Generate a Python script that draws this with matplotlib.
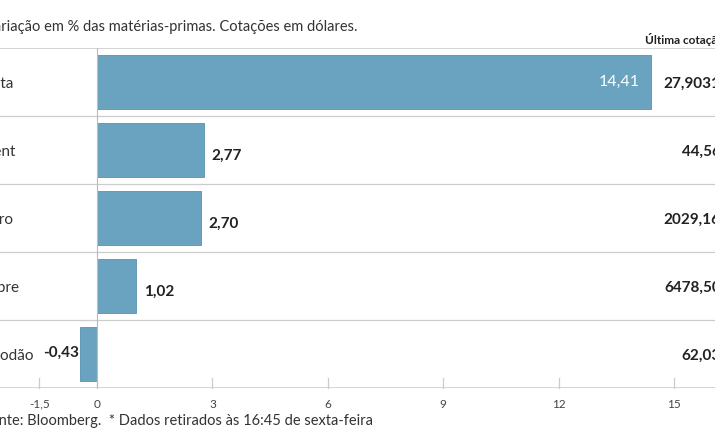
import matplotlib
matplotlib.use("Agg")
import matplotlib.pyplot as plt

categories = ["Prata", "Brent", "Ouro", "Cobre", "Algodão"]
changes = [14.41, 2.77, 2.70, 1.02, -0.43]
prices = ["27,9031", "44,56", "2029,16", "6478,50", "62,03"]
xticks = [-1.5, 0, 3, 6, 9, 12, 15]

plt.rcParams["font.family"] = "Lato"
W, H = 715, 445
fig = plt.figure(figsize=(W/100, H/100), dpi=100)
top, bot = 48, 388
ax = fig.add_axes([0, 1-bot/H, 1, (bot-top)/H])
x0 = -97/38.47
ax.set_xlim(x0, x0 + W/38.47)
n = len(categories)
ax.set_ylim(n, 0)
ys = [i + 0.5 for i in range(n)]
ax.barh(ys, changes, height=0.79, color="#6aa3bf", edgecolor="#5a93af", linewidth=0.6, zorder=2)
for s in ax.spines.values():
    s.set_visible(False)
ax.set_yticks([]); ax.set_xticks([])
for i in range(n + 1):
    ax.axhline(i, color="#cccccc", lw=1.2 if i in (0, n) else 0.9, zorder=1)
ax.axvline(0, color="#bbbbbb", lw=0.8, zorder=3)
for t in xticks:
    ax.plot([t, t], [n, n-0.15], color="#cccccc", lw=0.9, clip_on=False)
    ax.text(t, n+0.24, f"{t:g}".replace(".", ","), ha="center", va="center", fontsize=8.5, color="#444444")
for y, c, v, p in zip(ys, categories, changes, prices):
    fig.text(-0.03, 1-(top+y*68+2)/H, c, ha="left", va="center", fontsize=11, color="#333333")
    s = f"{v:.2f}".replace(".", ",")
    if v > 10:
        ax.text(v-0.3, y, s, ha="right", va="center", fontsize=11.5, color="white")
    elif v >= 0:
        ax.text(v+0.2, y+0.08, s, ha="left", va="center", fontsize=11, fontweight="bold", color="#222222")
    else:
        ax.text(v-0.05, y-0.02, s, ha="right", va="center", fontsize=11, fontweight="bold", color="#222222")
    fig.text(1.008, 1-(top+y*68+2)/H, p, ha="right", va="center", fontsize=11, fontweight="bold", color="#222222")
fig.text(-0.022, 1-27/H, "Variação em % das matérias-primas. Cotações em dólares.", ha="left", va="center", fontsize=10.5, color="#333333")
fig.text(1.02, 1-40/H, "Última cotação*", ha="right", va="center", fontsize=8.5, fontweight="bold", color="#222222")
fig.text(-0.025, 1-421/H, "Fonte: Bloomberg.  * Dados retirados às 16:45 de sexta-feira", ha="left", va="center", fontsize=10.5, color="#333333")
fig.savefig("out.png", dpi=100)
